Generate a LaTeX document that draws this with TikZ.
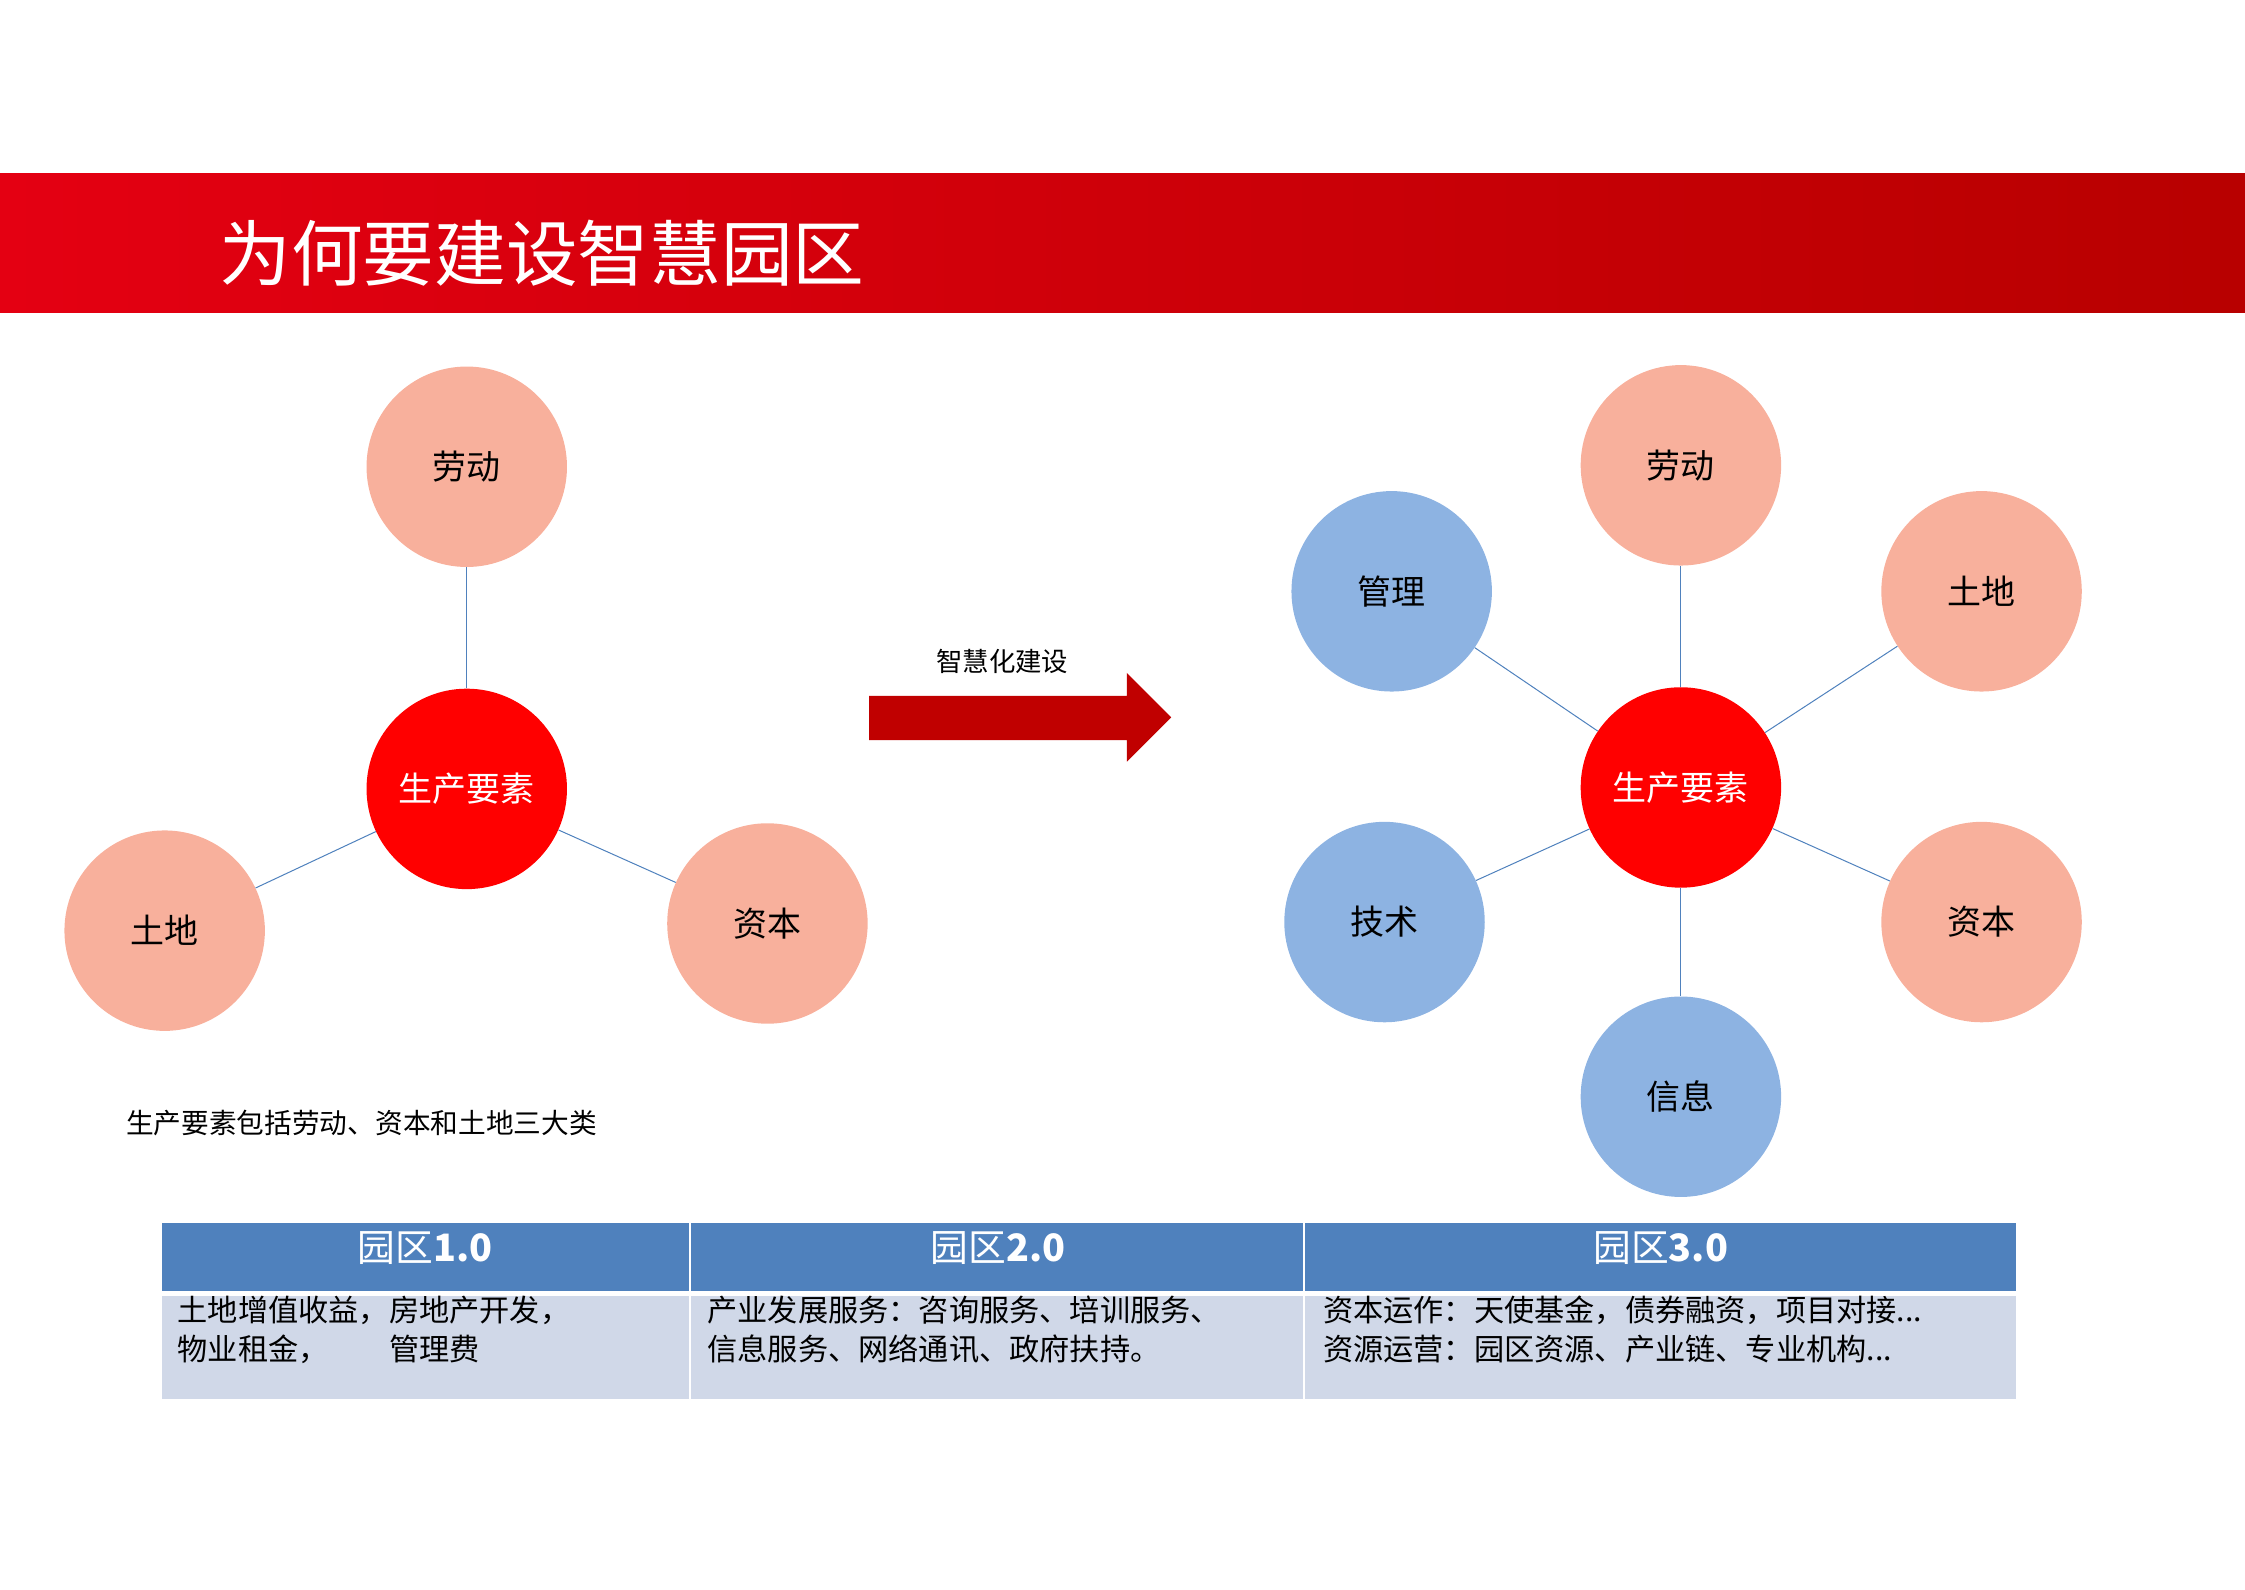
\documentclass[tikz,border=0pt]{standalone}
\usepackage{fontspec}
\setmainfont{Noto Sans CJK SC}
\definecolor{salmon}{HTML}{F8B09C}
\definecolor{bluec}{HTML}{8DB3E2}
\definecolor{hdr}{HTML}{4F81BD}
\definecolor{bodyc}{HTML}{D0D8E8}
\definecolor{dred}{HTML}{C00000}
\begin{document}
\begin{tikzpicture}[x=0.4mm,y=-0.4mm,
  circ/.style={circle,minimum size=56mm,inner sep=0pt,font=\fontsize{27}{30}\selectfont},
  sal/.style={circ,fill=salmon},
  blu/.style={circ,fill=bluec},
  ctr/.style={circ,fill=red,text=white},
  ln/.style={draw=hdr,line width=0.8pt},
  cell/.style={anchor=north west,align=left,font=\fontsize{24}{31}\selectfont,inner sep=0pt}]
\useasboundingbox (0,0) rectangle (1568,1110);
\fill[left color={rgb,255:red,228;green,0;blue,18},right color={rgb,255:red,184;green,0;blue,0}] (0,121) rectangle (1568,218);
\node[anchor=west,text=white,font=\fontsize{57}{60}\selectfont,inner sep=0pt] (title) at (153,177) {为何要建设智慧园区};
% left
\node[ctr] (c1) at (326,551) {生产要素};
\node[sal] (l1) at (326,326) {劳动};
\node[sal] (t1) at (115,650) {土地};
\node[sal] (z1) at (536,645) {资本};
\foreach \n in {l1,t1,z1} \draw[ln] (c1) -- (\n);
\node[anchor=west,inner sep=0pt,font=\fontsize{22}{24}\selectfont] (cap) at (88,784) {生产要素包括劳动、资本和土地三大类};
% arrow
\fill[dred] (607,486) -- (787,486) -- (787,470) -- (818,501) -- (787,532) -- (787,517) -- (607,517) -- cycle;
\node[font=\fontsize{21}{24}\selectfont] (al) at (700,462) {智慧化建设};
% right
\node[ctr] (c2) at (1174,550) {生产要素};
\node[sal] (l2) at (1174,325) {劳动};
\node[sal] (t2) at (1384,413) {土地};
\node[blu] (g2) at (972,413) {管理};
\node[blu] (j2) at (967,644) {技术};
\node[sal] (z2) at (1384,644) {资本};
\node[blu] (x2) at (1174,766) {信息};
\foreach \n in {l2,t2,g2,j2,z2,x2} \draw[ln] (c2) -- (\n);
% table
\fill[hdr] (113,854) rectangle (1408,902);
\fill[bodyc] (113,905) rectangle (1408,977);
\draw[white,line width=1.5pt] (482,854) -- (482,977) (911,854) -- (911,977);
\node[text=white,font=\fontsize{30}{32}\selectfont] (h1) at (297,872) {园区\textbf{1.0}};
\node[text=white,font=\fontsize{30}{32}\selectfont] (h2) at (697,872) {园区\textbf{2.0}};
\node[text=white,font=\fontsize{30}{32}\selectfont] (h3) at (1160,872) {园区\textbf{3.0}};
\node[cell] (b1) at (124,905) {土地增值收益，房地产开发，\\物业租金，\hspace{17mm}管理费};
\node[cell] (b2) at (494,905) {产业发展服务：咨询服务、培训服务、\\信息服务、网络通讯、政府扶持。};
\node[cell] (b3) at (924,905) {资本运作：天使基金，债券融资，项目对接...\\资源运营：园区资源、产业链、专业机构...};
\end{tikzpicture}
\end{document}
